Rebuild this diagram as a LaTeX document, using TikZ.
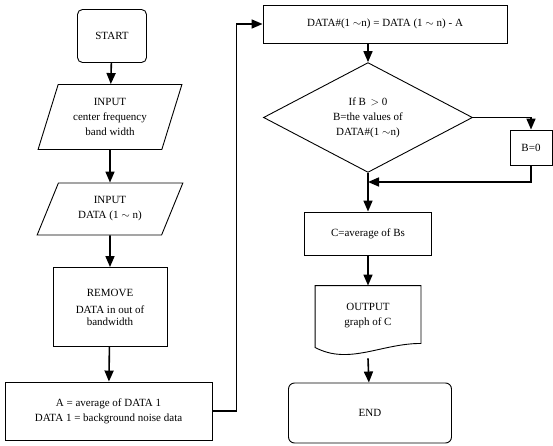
\documentclass[tikz,border=0pt]{standalone}
\usepackage{fontspec}
\setmainfont{Liberation Serif}
\usetikzlibrary{shapes.geometric,arrows.meta}
\begin{document}
\begin{tikzpicture}[x=1pt,y=-1pt,
        every node/.style={font=\fontsize{11}{15}\selectfont,align=center}]
    \useasboundingbox (0,0) rectangle (553,446);
    \begin{scope}[every node/.style={draw,line width=0.9pt,align=center,
                font=\fontsize{11}{15}\selectfont,inner sep=2pt}]
        \node[rounded corners=5pt,minimum width=69pt,minimum height=53pt] (start) at (112,36) {START};
        \node[trapezium,trapezium left angle=70,trapezium right angle=110,
              trapezium stretches=true,minimum width=144pt,minimum height=65pt] (in1) at (110,117)
              {INPUT\\ center frequency\\ band width};
        \node[trapezium,trapezium left angle=64,trapezium right angle=116,
              trapezium stretches=true,minimum width=147pt,minimum height=52pt] (in2) at (110,209)
              {INPUT\\ DATA (1 $\sim$ n)};
        \node[minimum width=114pt,minimum height=79pt] (rem) at (110,307)
              {REMOVE\\[2pt] DATA in out of\\[-3pt] bandwidth};
        \node[minimum width=207pt,minimum height=58pt] (avg) at (108.5,411)
              {A = average of DATA 1\\ DATA 1 = background noise data};
        \node[minimum width=244pt,minimum height=38pt] (sub) at (385,24)
              {DATA\#(1 $\sim$n) = DATA (1 $\sim$ n) - A};
        \node[diamond,minimum width=209pt,minimum height=89pt,inner sep=0pt] (dia) at (368,117.5)
              {If B \,$>$ 0\\ B=the values of\\ DATA\#(1 $\sim$n)};
        \node[minimum width=42pt,minimum height=35pt] (bzero) at (531,147.5) {B=0};
        \node[minimum width=127pt,minimum height=43pt] (cavg) at (368,233.5) {C=average of Bs};
        \node[draw=none,minimum width=105pt,minimum height=60pt] (out) at (368,316)
              {OUTPUT\\ graph of C};
        \node[rounded corners=6pt,minimum width=163pt,minimum height=60pt] (end) at (370,413) {END};
    \end{scope}

    % document shape of the output
    \draw[line width=0.9pt] (out.north west) -- (out.north east) -- ([yshift=3pt]out.south east)
        .. controls +(-40,0) and +(34,18) .. ([yshift=-1pt]out.south west) -- cycle;

    \coordinate (merge) at (368,182);

    \begin{scope}[every edge/.style={draw,line width=1.6pt,-{Triangle[width=9pt,length=11pt]}}]
        \path (start) edge (in1);
        \path (in1) edge (in2);
        \path (in2) edge (rem);
        \path (rem) edge (avg);
        \path (sub.south -| dia.north) edge (dia.north);
        \path (dia) edge (cavg);
        \path (cavg) edge (out);
        \path ([yshift=-12pt]out.south) edge (end);
    \end{scope}

    \draw[line width=1.6pt,-{Triangle[width=9pt,length=11pt]}] (avg.east) -- ++(24,0) |- (sub.west);
    \draw[line width=1.6pt,-{Triangle[width=9pt,length=11pt]}] (dia.east) -| (bzero.north);
    \draw[line width=1.6pt,-{Triangle[width=9pt,length=11pt]}] (bzero.south) |- (merge);
\end{tikzpicture}
\end{document}
